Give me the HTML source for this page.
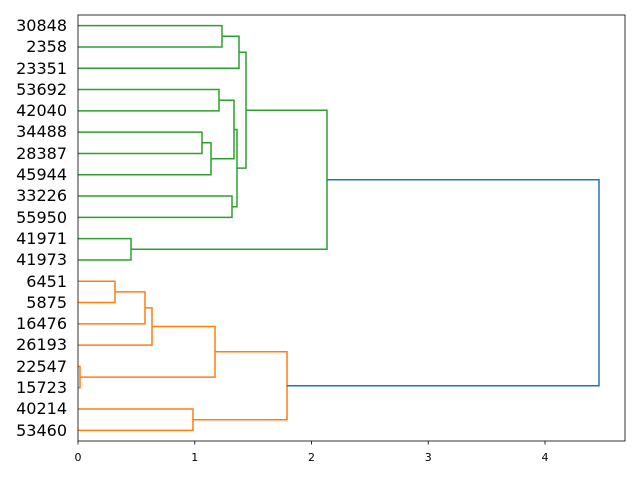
<!DOCTYPE html>
<html><head><meta charset="utf-8"><style>body{margin:0;background:#fff}svg{display:block}</style></head><body>
<svg width="640" height="480" xmlns="http://www.w3.org/2000/svg" font-family="DejaVu Sans, Liberation Sans, sans-serif">
<rect width="640" height="480" fill="#fff"/>
<g fill="none" stroke-width="1.5">
<g stroke="#2ca02c">
<path d="M78 25.65H222V46.95H78"/>
<path d="M222 36.3H239V68.25H78"/>
<path d="M78 89.55H219V110.85H78"/>
<path d="M78 132.15H202V153.45H78"/>
<path d="M202 142.8H211V174.75H78"/>
<path d="M219 100.2H234V158.8H211"/>
<path d="M78 196.05H232V217.35H78"/>
<path d="M234 129.5H237V206.7H232"/>
<path d="M239 52.3H246V168.1H237"/>
<path d="M78 238.65H131V259.95H78"/>
<path d="M246 110.2H327V249.3H131"/>
</g>
<g stroke="#ff7f0e">
<path d="M78 281.25H115V302.55H78"/>
<path d="M115 291.9H145V323.85H78"/>
<path d="M145 307.9H152V345.15H78"/>
<path d="M78 366.45H80V387.75H78"/>
<path d="M152 326.5H215V377.1H80"/>
<path d="M78 409.05H193V430.35H78"/>
<path d="M215 351.8H287V419.7H193"/>
</g>
<path stroke="#1f77b4" d="M327 179.75H599V385.75H287"/>
</g>
<rect x="78" y="15" width="547" height="426" fill="none" stroke="#000" stroke-width="0.8"/>
<g stroke="#000" stroke-width="0.8">
<path d="M78 441v3.5M194.75 441v3.5M311.5 441v3.5M428.25 441v3.5M545 441v3.5"/>
</g>
<g font-size="11" text-anchor="middle" fill="#000">
<text x="78" y="461">0</text><text x="194.75" y="461">1</text><text x="311.5" y="461">2</text><text x="428.25" y="461">3</text><text x="545" y="461">4</text>
</g>
<g font-size="16" text-anchor="end" fill="#000">
<text x="67" y="31">30848</text><text x="67" y="52">2358</text><text x="67" y="74">23351</text><text x="67" y="95">53692</text><text x="67" y="116">42040</text><text x="67" y="137">34488</text><text x="67" y="159">28387</text><text x="67" y="180">45944</text><text x="67" y="201">33226</text><text x="67" y="223">55950</text><text x="67" y="244">41971</text><text x="67" y="265">41973</text><text x="67" y="287">6451</text><text x="67" y="308">5875</text><text x="67" y="329">16476</text><text x="67" y="350">26193</text><text x="67" y="372">22547</text><text x="67" y="393">15723</text><text x="67" y="414">40214</text><text x="67" y="436">53460</text>
</g>
</svg>
</body></html>
